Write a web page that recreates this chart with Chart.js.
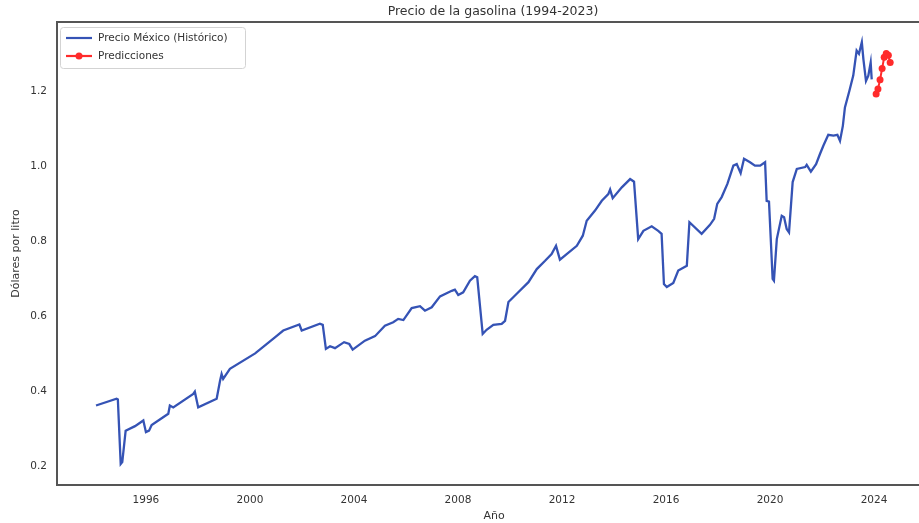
<!DOCTYPE html>
<html><head><meta charset="utf-8">
<script src="https://cdn.jsdelivr.net/npm/chart.js@4.4.0/dist/chart.umd.min.js"></script>
<style>html,body{margin:0;padding:0;background:#fff;overflow:hidden;width:919px;height:523px}#wrap{width:919px;height:523px;overflow:hidden}</style>
</head><body><div id="wrap"><canvas id="c" width="935" height="523"></canvas></div>
<script>
const titleText = 'Precio de la gasolina (1994-2023)';
const xLabel = 'Año';
const yLabel = 'Dólares por litro';
const seriesNames = ['Precio México (Histórico)', 'Predicciones'];
const xTicks = [1996, 2000, 2004, 2008, 2012, 2016, 2020, 2024];
const yTicks = [0.2, 0.4, 0.6, 0.8, 1.0, 1.2];

const histYears = [
  1994.08, 1994.87, 1994.92, 1995.03, 1995.09, 1995.22, 1995.58, 1995.90, 1996.00, 1996.12,
  1996.22, 1996.86, 1996.92, 1997.05, 1997.82, 1997.88, 1998.01, 1998.72, 1998.85, 1998.91,
  1998.97, 1999.23, 2000.20, 2000.96, 2001.28, 2001.90, 2001.99, 2002.69, 2002.80, 2002.92,
  2003.08, 2003.27, 2003.62, 2003.82, 2003.95, 2004.42, 2004.81, 2005.19, 2005.51, 2005.70,
  2005.90, 2006.22, 2006.54, 2006.73, 2006.99, 2007.31, 2007.76, 2007.88, 2008.01, 2008.20,
  2008.46, 2008.65, 2008.74, 2008.95, 2009.10, 2009.36, 2009.68, 2009.81, 2009.94, 2010.26,
  2010.71, 2011.03, 2011.35, 2011.60, 2011.77, 2011.92, 2012.18, 2012.57, 2012.80, 2012.95,
  2013.27, 2013.53, 2013.78, 2013.85, 2013.95, 2014.30, 2014.62, 2014.77, 2014.93, 2015.13,
  2015.45, 2015.70, 2015.83, 2015.92, 2016.03, 2016.28, 2016.47, 2016.80, 2016.90, 2017.37,
  2017.69, 2017.85, 2017.97, 2018.14, 2018.36, 2018.59, 2018.72, 2018.87, 2019.00, 2019.23,
  2019.42, 2019.62, 2019.81, 2019.87, 2019.96, 2020.10, 2020.15, 2020.26, 2020.45, 2020.54,
  2020.64, 2020.73, 2020.87, 2021.03, 2021.35, 2021.41, 2021.57, 2021.77, 2021.92, 2022.05,
  2022.24, 2022.44, 2022.59, 2022.69, 2022.80, 2022.88, 2023.05, 2023.20, 2023.33, 2023.42,
  2023.53, 2023.59, 2023.69, 2023.78, 2023.87, 2023.91
];
const histValues = [
  0.361, 0.379, 0.377, 0.205, 0.210, 0.294, 0.306, 0.321, 0.290, 0.294,
  0.309, 0.339, 0.361, 0.356, 0.392, 0.398, 0.356, 0.379, 0.427, 0.445,
  0.432, 0.459, 0.500, 0.543, 0.561, 0.577, 0.561, 0.579, 0.576, 0.512,
  0.519, 0.514, 0.530, 0.525, 0.510, 0.534, 0.546, 0.574, 0.583, 0.592,
  0.589, 0.621, 0.626, 0.614, 0.623, 0.652, 0.667, 0.670, 0.656, 0.663,
  0.694, 0.706, 0.703, 0.552, 0.563, 0.576, 0.579, 0.587, 0.637, 0.659,
  0.690, 0.725, 0.747, 0.765, 0.787, 0.750, 0.765, 0.787, 0.814, 0.854,
  0.881, 0.907, 0.925, 0.937, 0.914, 0.943, 0.965, 0.958, 0.805, 0.827,
  0.839, 0.827, 0.819, 0.685, 0.677, 0.688, 0.721, 0.734, 0.850, 0.819,
  0.843, 0.859, 0.899, 0.917, 0.952, 1.001, 1.005, 0.981, 1.019, 1.010,
  1.001, 1.001, 1.010, 0.907, 0.905, 0.699, 0.694, 0.805, 0.867, 0.863,
  0.832, 0.823, 0.957, 0.992, 0.997, 1.003, 0.985, 1.005, 1.032, 1.054,
  1.083, 1.081, 1.083, 1.067, 1.107, 1.156, 1.200, 1.241, 1.308, 1.299,
  1.330, 1.285, 1.227, 1.241, 1.276, 1.231
];
const predYears = [2024.08, 2024.15, 2024.23, 2024.31, 2024.39, 2024.47, 2024.55, 2024.62];
const predValues = [1.192, 1.205, 1.230, 1.260, 1.290, 1.300, 1.295, 1.276];

const BLUE = '#3553b5';
const RED = '#ff2b2b';
const SPINE = '#555555';
const TXT = '#333333';
const FONT = 'DejaVu Sans';

const decor = {
  id: 'decor',
  afterDraw(chart) {
    const ctx = chart.ctx, a = chart.chartArea;
    ctx.save();
    ctx.strokeStyle = SPINE; ctx.lineWidth = 2;
    ctx.beginPath(); ctx.moveTo(a.left - 1, a.top); ctx.lineTo(a.right, a.top); ctx.stroke();
    ctx.fillStyle = TXT; ctx.font = '12.5px "' + FONT + '"';
    ctx.textAlign = 'center'; ctx.textBaseline = 'middle';
    ctx.fillText(titleText, 493, 12);
    const lx = a.left + 3, ly = a.top + 5, lw = 185, lh = 41;
    ctx.fillStyle = 'rgba(255,255,255,0.85)'; ctx.strokeStyle = '#d3d3d3'; ctx.lineWidth = 1;
    ctx.beginPath(); ctx.roundRect(lx + 0.5, ly + 0.5, lw, lh, 3); ctx.fill(); ctx.stroke();
    ctx.font = '10.5px "' + FONT + '"'; ctx.textAlign = 'left'; ctx.textBaseline = 'middle';
    const rows = [{c: BLUE, y: ly + 11, dot: false}, {c: RED, y: ly + 29, dot: true}];
    rows.forEach((r, i) => {
      ctx.strokeStyle = r.c; ctx.lineWidth = 2.2;
      ctx.beginPath(); ctx.moveTo(lx + 6, r.y); ctx.lineTo(lx + 32, r.y); ctx.stroke();
      if (r.dot) { ctx.fillStyle = r.c; ctx.beginPath(); ctx.arc(lx + 19, r.y, 3.5, 0, Math.PI * 2); ctx.fill(); }
      ctx.fillStyle = TXT; ctx.fillText(seriesNames[i], lx + 38, r.y + 0.5);
    });
    ctx.restore();
  }
};

new Chart(document.getElementById('c'), {
  type: 'line',
  data: {
    datasets: [
      { label: seriesNames[0], data: histYears.map((x, i) => ({x, y: histValues[i]})),
        borderColor: BLUE, backgroundColor: BLUE, borderWidth: 2.3, pointRadius: 0, tension: 0, fill: false },
      { label: seriesNames[1], data: predYears.map((x, i) => ({x, y: predValues[i]})),
        borderColor: RED, backgroundColor: RED, borderWidth: 2, pointRadius: 3.5,
        pointBackgroundColor: RED, pointBorderColor: RED, pointBorderWidth: 0, tension: 0, fill: false }
    ]
  },
  options: {
    responsive: false, animation: false, devicePixelRatio: 1,
    layout: { padding: { top: 22, left: 0, right: 0, bottom: 0 } },
    plugins: { legend: { display: false }, title: { display: false }, tooltip: { enabled: false } },
    scales: {
      x: {
        type: 'linear', min: 1992.58, max: 2026.19,
        afterBuildTicks: s => { s.ticks = xTicks.map(v => ({value: v})); },
        afterFit: s => { s.height = 38; },
        ticks: { callback: v => String(v), color: TXT, font: {family: FONT, size: 10.5}, padding: 9, maxRotation: 0, autoSkip: false },
        grid: { display: false, drawTicks: false },
        border: { display: true, color: SPINE, width: 2 },
        title: { display: true, text: xLabel, color: TXT, font: {family: FONT, size: 11}, padding: {top: 0, bottom: 0} }
      },
      y: {
        type: 'linear', min: 0.149, max: 1.384,
        afterBuildTicks: s => { s.ticks = yTicks.map(v => ({value: v})); },
        afterFit: s => { s.width = 57; },
        ticks: { callback: v => Number(v).toFixed(1), color: TXT, font: {family: FONT, size: 10.5}, padding: 10 },
        grid: { display: false, drawTicks: false },
        border: { display: true, color: SPINE, width: 2 },
        title: { display: true, text: yLabel, color: TXT, font: {family: FONT, size: 11}, padding: {top: 10, bottom: 0} }
      }
    }
  },
  plugins: [decor]
});
</script>
</body></html>
